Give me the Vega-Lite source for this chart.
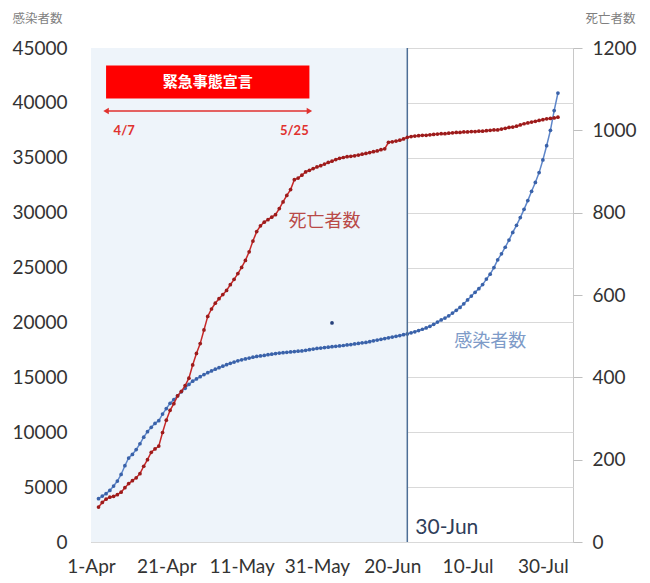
{
  "$schema": "https://vega.github.io/schema/vega-lite/v6.json",
  "width": 482,
  "height": 494,
  "autosize": {"type": "none"},
  "padding": {"left": 91, "top": 48, "right": 77, "bottom": 41},
  "background": "white",
  "config": {
    "view": {"stroke": "#C8C8C8", "strokeWidth": 1},
    "font": "Lato",
    "axis": {
      "labelFont": "Lato",
      "labelFontSize": 19,
      "labelColor": "#333333",
      "titleFont": "Noto Sans CJK JP",
      "titleFontSize": 12.5,
      "titleFontWeight": "normal",
      "titleColor": "#7F7F7F"
    }
  },
  "datasets": {
    "series": [
      {"date": "2020-04-03", "infected": 3950, "deaths": 85},
      {"date": "2020-04-04", "infected": 4180, "deaths": 96},
      {"date": "2020-04-05", "infected": 4400, "deaths": 104},
      {"date": "2020-04-06", "infected": 4700, "deaths": 109},
      {"date": "2020-04-07", "infected": 5100, "deaths": 111},
      {"date": "2020-04-08", "infected": 5550, "deaths": 115},
      {"date": "2020-04-09", "infected": 6150, "deaths": 121},
      {"date": "2020-04-10", "infected": 6950, "deaths": 132},
      {"date": "2020-04-11", "infected": 7650, "deaths": 142},
      {"date": "2020-04-12", "infected": 7980, "deaths": 149},
      {"date": "2020-04-13", "infected": 8420, "deaths": 156},
      {"date": "2020-04-14", "infected": 8950, "deaths": 166},
      {"date": "2020-04-15", "infected": 9550, "deaths": 184},
      {"date": "2020-04-16", "infected": 10050, "deaths": 200},
      {"date": "2020-04-17", "infected": 10450, "deaths": 218},
      {"date": "2020-04-18", "infected": 10800, "deaths": 226},
      {"date": "2020-04-19", "infected": 11050, "deaths": 233},
      {"date": "2020-04-20", "infected": 11650, "deaths": 266},
      {"date": "2020-04-21", "infected": 12150, "deaths": 296},
      {"date": "2020-04-22", "infected": 12630, "deaths": 320},
      {"date": "2020-04-23", "infected": 12980, "deaths": 336},
      {"date": "2020-04-24", "infected": 13320, "deaths": 355},
      {"date": "2020-04-25", "infected": 13680, "deaths": 366},
      {"date": "2020-04-26", "infected": 14000, "deaths": 380},
      {"date": "2020-04-27", "infected": 14350, "deaths": 398},
      {"date": "2020-04-28", "infected": 14650, "deaths": 430},
      {"date": "2020-04-29", "infected": 14850, "deaths": 458},
      {"date": "2020-04-30", "infected": 15060, "deaths": 482},
      {"date": "2020-05-01", "infected": 15250, "deaths": 515},
      {"date": "2020-05-02", "infected": 15420, "deaths": 548},
      {"date": "2020-05-03", "infected": 15580, "deaths": 566},
      {"date": "2020-05-04", "infected": 15740, "deaths": 580},
      {"date": "2020-05-05", "infected": 15880, "deaths": 591},
      {"date": "2020-05-06", "infected": 16020, "deaths": 601},
      {"date": "2020-05-07", "infected": 16150, "deaths": 611},
      {"date": "2020-05-08", "infected": 16280, "deaths": 625},
      {"date": "2020-05-09", "infected": 16390, "deaths": 638},
      {"date": "2020-05-10", "infected": 16500, "deaths": 652},
      {"date": "2020-05-11", "infected": 16600, "deaths": 667},
      {"date": "2020-05-12", "infected": 16680, "deaths": 684},
      {"date": "2020-05-13", "infected": 16760, "deaths": 705},
      {"date": "2020-05-14", "infected": 16830, "deaths": 731},
      {"date": "2020-05-15", "infected": 16900, "deaths": 754},
      {"date": "2020-05-16", "infected": 16950, "deaths": 768},
      {"date": "2020-05-17", "infected": 17000, "deaths": 777},
      {"date": "2020-05-18", "infected": 17060, "deaths": 783},
      {"date": "2020-05-19", "infected": 17110, "deaths": 789},
      {"date": "2020-05-20", "infected": 17170, "deaths": 795},
      {"date": "2020-05-21", "infected": 17210, "deaths": 810},
      {"date": "2020-05-22", "infected": 17250, "deaths": 826},
      {"date": "2020-05-23", "infected": 17280, "deaths": 842},
      {"date": "2020-05-24", "infected": 17310, "deaths": 856},
      {"date": "2020-05-25", "infected": 17350, "deaths": 880},
      {"date": "2020-05-26", "infected": 17380, "deaths": 884},
      {"date": "2020-05-27", "infected": 17410, "deaths": 891},
      {"date": "2020-05-28", "infected": 17460, "deaths": 899},
      {"date": "2020-05-29", "infected": 17520, "deaths": 903},
      {"date": "2020-05-30", "infected": 17580, "deaths": 907},
      {"date": "2020-05-31", "infected": 17630, "deaths": 911},
      {"date": "2020-06-01", "infected": 17670, "deaths": 914},
      {"date": "2020-06-02", "infected": 17710, "deaths": 918},
      {"date": "2020-06-03", "infected": 17750, "deaths": 922},
      {"date": "2020-06-04", "infected": 17790, "deaths": 925},
      {"date": "2020-06-05", "infected": 17830, "deaths": 929},
      {"date": "2020-06-06", "infected": 17860, "deaths": 932},
      {"date": "2020-06-07", "infected": 17900, "deaths": 934},
      {"date": "2020-06-08", "infected": 17950, "deaths": 936},
      {"date": "2020-06-09", "infected": 17990, "deaths": 937},
      {"date": "2020-06-10", "infected": 18040, "deaths": 938},
      {"date": "2020-06-11", "infected": 18090, "deaths": 940},
      {"date": "2020-06-12", "infected": 18140, "deaths": 942},
      {"date": "2020-06-13", "infected": 18180, "deaths": 944},
      {"date": "2020-06-14", "infected": 18250, "deaths": 946},
      {"date": "2020-06-15", "infected": 18330, "deaths": 948},
      {"date": "2020-06-16", "infected": 18400, "deaths": 950},
      {"date": "2020-06-17", "infected": 18460, "deaths": 953},
      {"date": "2020-06-18", "infected": 18530, "deaths": 955},
      {"date": "2020-06-19", "infected": 18600, "deaths": 971},
      {"date": "2020-06-20", "infected": 18670, "deaths": 972},
      {"date": "2020-06-21", "infected": 18740, "deaths": 974},
      {"date": "2020-06-22", "infected": 18810, "deaths": 976},
      {"date": "2020-06-23", "infected": 18880, "deaths": 979},
      {"date": "2020-06-24", "infected": 18950, "deaths": 983},
      {"date": "2020-06-25", "infected": 19050, "deaths": 985},
      {"date": "2020-06-26", "infected": 19150, "deaths": 986},
      {"date": "2020-06-27", "infected": 19260, "deaths": 987},
      {"date": "2020-06-28", "infected": 19380, "deaths": 988},
      {"date": "2020-06-29", "infected": 19500, "deaths": 988},
      {"date": "2020-06-30", "infected": 19650, "deaths": 989},
      {"date": "2020-07-01", "infected": 19830, "deaths": 990},
      {"date": "2020-07-02", "infected": 20030, "deaths": 991},
      {"date": "2020-07-03", "infected": 20230, "deaths": 992},
      {"date": "2020-07-04", "infected": 20400, "deaths": 992},
      {"date": "2020-07-05", "infected": 20600, "deaths": 993},
      {"date": "2020-07-06", "infected": 20850, "deaths": 994},
      {"date": "2020-07-07", "infected": 21100, "deaths": 995},
      {"date": "2020-07-08", "infected": 21370, "deaths": 995},
      {"date": "2020-07-09", "infected": 21700, "deaths": 996},
      {"date": "2020-07-10", "infected": 22050, "deaths": 996},
      {"date": "2020-07-11", "infected": 22400, "deaths": 997},
      {"date": "2020-07-12", "infected": 22750, "deaths": 997},
      {"date": "2020-07-13", "infected": 23080, "deaths": 998},
      {"date": "2020-07-14", "infected": 23450, "deaths": 998},
      {"date": "2020-07-15", "infected": 23950, "deaths": 999},
      {"date": "2020-07-16", "infected": 24400, "deaths": 1000},
      {"date": "2020-07-17", "infected": 25000, "deaths": 1001},
      {"date": "2020-07-18", "infected": 25700, "deaths": 1001},
      {"date": "2020-07-19", "infected": 26250, "deaths": 1003},
      {"date": "2020-07-20", "infected": 26850, "deaths": 1005},
      {"date": "2020-07-21", "infected": 27500, "deaths": 1007},
      {"date": "2020-07-22", "infected": 28200, "deaths": 1008},
      {"date": "2020-07-23", "infected": 28850, "deaths": 1010},
      {"date": "2020-07-24", "infected": 29550, "deaths": 1013},
      {"date": "2020-07-25", "infected": 30300, "deaths": 1016},
      {"date": "2020-07-26", "infected": 31100, "deaths": 1018},
      {"date": "2020-07-27", "infected": 31950, "deaths": 1020},
      {"date": "2020-07-28", "infected": 32750, "deaths": 1022},
      {"date": "2020-07-29", "infected": 33650, "deaths": 1024},
      {"date": "2020-07-30", "infected": 34800, "deaths": 1026},
      {"date": "2020-07-31", "infected": 36100, "deaths": 1028},
      {"date": "2020-08-01", "infected": 37500, "deaths": 1029},
      {"date": "2020-08-02", "infected": 39300, "deaths": 1030},
      {"date": "2020-08-03", "infected": 40900, "deaths": 1032}
    ],
    "outlier": [{"date": "2020-06-04", "infected": 19950}],
    "period": [{"date": "2020-04-01", "end": "2020-06-24"}],
    "marker": [{"date": "2020-06-24", "value": 1300, "label": "30-Jun"}],
    "emergency": [{"date": "2020-04-05", "end": "2020-05-29", "low": 40400, "high": 43400, "arrow": 39260}],
    "arrowEnds": [
      {"date": "2020-04-05", "value": 39260, "side": "left"},
      {"date": "2020-05-29", "value": 39260, "side": "right"}
    ],
    "emergencyTitle": [{"date": "2020-05-02", "value": 41900, "label": "緊急事態宣言"}],
    "notes": [
      {"date": "2020-04-07", "value": 37440, "label": "4/7"},
      {"date": "2020-05-25", "value": 37440, "label": "5/25"}
    ],
    "seriesLabels": [
      {"date": "2020-06-02", "value": 29150, "label": "死亡者数", "series": "deaths"},
      {"date": "2020-07-16", "value": 18220, "label": "感染者数", "series": "infected"}
    ]
  },
  "encoding": {
    "x": {
      "field": "date",
      "type": "temporal",
      "title": null,
      "scale": {
        "type": "utc",
        "domain": [
          {"year": 2020, "month": 4, "date": 1, "utc": true},
          {"year": 2020, "month": 8, "date": 7, "utc": true}
        ]
      },
      "axis": {
        "title": null,
        "labelExpr": "utcFormat(datum.value, '%-d-%b')",
        "values": [
          {"year": 2020, "month": 4, "date": 1, "utc": true},
          {"year": 2020, "month": 4, "date": 21, "utc": true},
          {"year": 2020, "month": 5, "date": 11, "utc": true},
          {"year": 2020, "month": 5, "date": 31, "utc": true},
          {"year": 2020, "month": 6, "date": 20, "utc": true},
          {"year": 2020, "month": 7, "date": 10, "utc": true},
          {"year": 2020, "month": 7, "date": 30, "utc": true}
        ],
        "grid": false,
        "domain": false,
        "ticks": false,
        "labelPadding": 15,
        "labelFlush": false,
        "labelOverlap": false
      }
    }
  },
  "layer": [
    {
      "layer": [
        {
          "data": {"name": "period"},
          "mark": {"type": "rect", "color": "#EEF4FA"},
          "encoding": {"x2": {"field": "end"}}
        },
        {
          "data": {"name": "series"},
          "mark": {"type": "line", "color": "#5E86C9", "strokeWidth": 1.5},
          "encoding": {
            "y": {
              "field": "infected",
              "type": "quantitative",
              "title": "感染者数",
              "scale": {"domain": [0, 45000], "nice": false},
              "axis": {
                "title": "感染者数",
                "format": "d",
                "values": [0, 5000, 10000, 15000, 20000, 25000, 30000, 35000, 40000, 45000],
                "grid": true,
                "gridColor": "#D9D9D9",
                "ticks": false,
                "domain": false,
                "labelPadding": 24,
                "titleAngle": 0,
                "titleX": -79,
                "titleY": -30,
                "titleAlign": "left",
                "titleBaseline": "middle"
              }
            }
          }
        },
        {
          "data": {"name": "series"},
          "mark": {"type": "point", "filled": true, "color": "#3A62A9", "size": 14, "opacity": 1},
          "encoding": {
            "y": {"field": "infected", "type": "quantitative", "title": "感染者数"}
          }
        },
        {
          "data": {"name": "outlier"},
          "mark": {"type": "point", "filled": true, "color": "#26407A", "size": 14, "opacity": 1},
          "encoding": {
            "y": {"field": "infected", "type": "quantitative", "title": "感染者数"}
          }
        },
        {
          "data": {"name": "marker"},
          "mark": {"type": "rule", "color": "#4D6E96", "strokeWidth": 1.5},
          "encoding": {}
        },
        {
          "data": {"name": "marker"},
          "mark": {"type": "text", "align": "left", "baseline": "middle", "dx": 8, "font": "Lato", "fontSize": 21, "color": "#2F3E5A"},
          "encoding": {
            "y": {"field": "value", "type": "quantitative", "title": "感染者数"},
            "text": {"field": "label"}
          }
        },
        {
          "data": {"name": "emergency"},
          "mark": {"type": "rect", "color": "#FF0000"},
          "encoding": {
            "x2": {"field": "end"},
            "y": {"field": "low", "type": "quantitative", "title": "感染者数"},
            "y2": {"field": "high"}
          }
        },
        {
          "data": {"name": "emergency"},
          "mark": {"type": "rule", "color": "#E0312E", "strokeWidth": 1.5},
          "encoding": {
            "x2": {"field": "end"},
            "y": {"field": "arrow", "type": "quantitative", "title": "感染者数"}
          }
        },
        {
          "data": {"name": "arrowEnds"},
          "transform": [{"filter": "datum.side === 'left'"}],
          "mark": {"type": "point", "shape": "triangle-left", "filled": true, "color": "#E0312E", "size": 40, "opacity": 1},
          "encoding": {
            "y": {"field": "value", "type": "quantitative", "title": "感染者数"}
          }
        },
        {
          "data": {"name": "arrowEnds"},
          "transform": [{"filter": "datum.side === 'right'"}],
          "mark": {"type": "point", "shape": "triangle-right", "filled": true, "color": "#E0312E", "size": 40, "opacity": 1},
          "encoding": {
            "y": {"field": "value", "type": "quantitative", "title": "感染者数"}
          }
        },
        {
          "data": {"name": "emergencyTitle"},
          "mark": {"type": "text", "align": "center", "baseline": "middle", "font": "Noto Sans CJK JP", "fontWeight": "bold", "fontSize": 15, "color": "#FFFFFF"},
          "encoding": {
            "y": {"field": "value", "type": "quantitative", "title": "感染者数"},
            "text": {"field": "label"}
          }
        },
        {
          "data": {"name": "notes"},
          "transform": [{"filter": "datum.label === '4/7'"}],
          "mark": {"type": "text", "align": "left", "baseline": "middle", "font": "Lato", "fontWeight": "bold", "fontSize": 13, "color": "#E0312E"},
          "encoding": {
            "y": {"field": "value", "type": "quantitative", "title": "感染者数"},
            "text": {"field": "label"}
          }
        },
        {
          "data": {"name": "notes"},
          "transform": [{"filter": "datum.label === '5/25'"}],
          "mark": {"type": "text", "align": "center", "baseline": "middle", "font": "Lato", "fontWeight": "bold", "fontSize": 13, "color": "#E0312E"},
          "encoding": {
            "y": {"field": "value", "type": "quantitative", "title": "感染者数"},
            "text": {"field": "label"}
          }
        },
        {
          "data": {"name": "seriesLabels"},
          "mark": {"type": "text", "align": "center", "baseline": "middle", "font": "Noto Sans CJK JP", "fontSize": 18},
          "encoding": {
            "y": {"field": "value", "type": "quantitative", "title": "感染者数"},
            "text": {"field": "label"},
            "color": {
              "field": "series",
              "type": "nominal",
              "scale": {"domain": ["deaths", "infected"], "range": ["#B94A48", "#7E9BC8"]},
              "legend": null
            }
          }
        }
      ]
    },
    {
      "layer": [
        {
          "data": {"name": "series"},
          "mark": {"type": "line", "color": "#C62828", "strokeWidth": 1.5},
          "encoding": {
            "y": {
              "field": "deaths",
              "type": "quantitative",
              "title": "死亡者数",
              "scale": {"domain": [0, 1200], "nice": false},
              "axis": {
                "orient": "right",
                "title": "死亡者数",
                "format": "d",
                "values": [0, 200, 400, 600, 800, 1000, 1200],
                "grid": false,
                "ticks": true,
                "tickSize": 9,
                "tickColor": "#BFBFBF",
                "domain": false,
                "labelPadding": 10,
                "titleAngle": 0,
                "titleX": 12,
                "titleY": -30,
                "titleAlign": "left",
                "titleBaseline": "middle"
              }
            }
          }
        },
        {
          "data": {"name": "series"},
          "mark": {"type": "point", "filled": true, "color": "#9C1B1B", "size": 14, "opacity": 1},
          "encoding": {
            "y": {"field": "deaths", "type": "quantitative", "title": "死亡者数"}
          }
        }
      ]
    }
  ],
  "resolve": {"scale": {"y": "independent"}}
}
